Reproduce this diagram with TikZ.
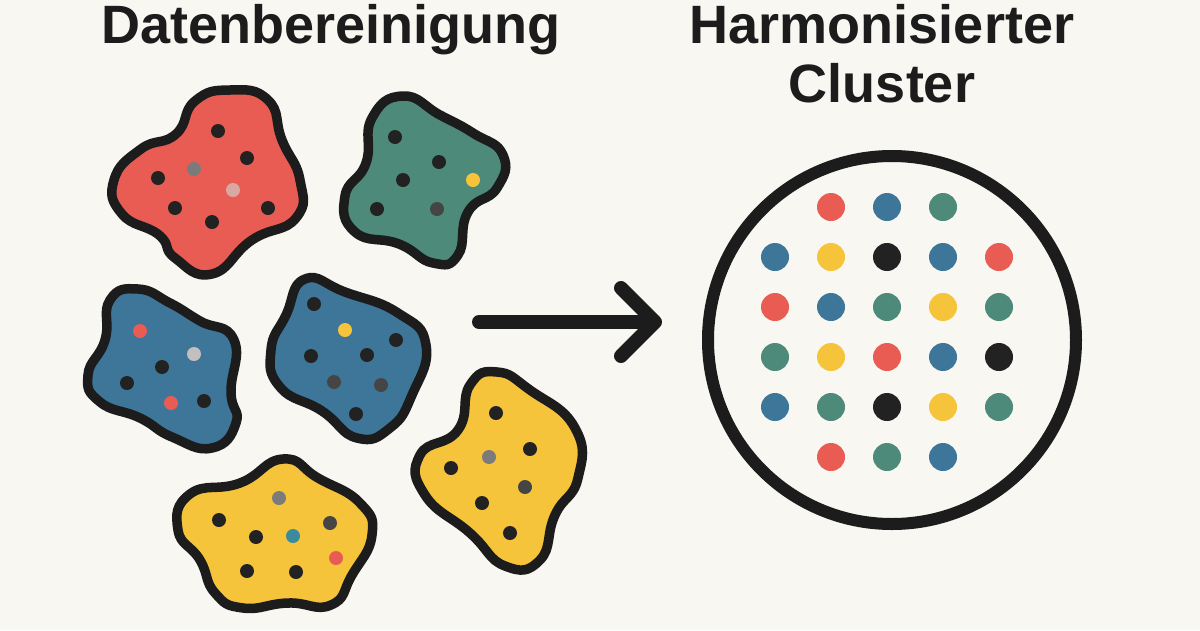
\documentclass[tikz,border=0pt]{standalone}
\usepackage{fontspec}
\setmainfont{Liberation Sans}
\usepackage{tikz}
\usetikzlibrary{arrows.meta}
\definecolor{paper}{HTML}{F9F7F2}
\definecolor{ink}{HTML}{1C1C1C}
\definecolor{cred}{HTML}{E95C53}
\definecolor{cblue}{HTML}{3E7699}
\definecolor{cgreen}{HTML}{4E8A79}
\definecolor{cyellow}{HTML}{F6C43A}
\definecolor{cblack}{HTML}{222222}
\definecolor{dgray}{HTML}{454545}
\definecolor{mgray}{HTML}{7B7B7B}
\definecolor{lgray}{HTML}{C3BFBF}
\definecolor{pinkgray}{HTML}{D9A8A3}
\definecolor{teal}{HTML}{3A8C9C}
\tikzset{
  title/.style={font=\fontsize{54}{62}\selectfont\bfseries,text=ink,inner sep=0pt,anchor=base},
  blob/.style={draw=ink,line width=9.5pt,line join=round},
  ring/.style={circle,draw=ink,line width=12pt,minimum size=368pt,inner sep=0pt},
  flow/.style={draw=ink,line width=14pt,line cap=round,-{Straight Barb[length=34pt,width=68pt,round]}}
}
\begin{document}
\begin{tikzpicture}[x=1pt,y=-1pt]
  \fill[paper] (0,0) rectangle (1200,630);
  \useasboundingbox (0,0) rectangle (1200,630);
  \node[title] (title left) at (331,43) {Datenbereinigung};
  \node[title] (title right) at (882,43) {Harmonisierter};
  \node[title] (title right2) at (882,102) {Cluster};
  \draw[blob,fill=cred] plot[smooth cycle,tension=0.85] coordinates {(230,90) (268,100) (282,140) (300,180) (296,218) (252,240) (212,274) (175,258) (159,235) (122,214) (114,180) (141,149) (176,134) (195,101)};
  \foreach \x/\y/\c in {218/131/cblack,247/158/cblack,194/169/mgray,158/178/cblack,233/190/pinkgray,175/208/cblack,268/208/cblack,212/222/cblack}
    \fill[\c] (\x,\y) circle[radius=7];
  \draw[blob,fill=cgreen] plot[smooth cycle,tension=0.85] coordinates {(403,96) (440,115) (473,133) (503,155) (497,188) (468,212) (458,255) (433,263) (399,244) (355,232) (345,196) (366,163) (372,118)};
  \foreach \x/\y/\c in {395/137/cblack,439/162/cblack,403/180/cblack,473/180/cyellow,377/209/cblack,437/209/dgray}
    \fill[\c] (\x,\y) circle[radius=7];
  \draw[blob,fill=cblue] plot[smooth cycle,tension=0.85] coordinates {(138,289) (170,303) (200,321) (234,340) (231,392) (236,423) (212,448) (172,437) (140,418) (100,402) (88,375) (105,340) (110,300)};
  \foreach \x/\y/\c in {140/331/cred,194/354/lgray,162/367/cblack,127/383/cblack,171/403/cred,204/401/cblack}
    \fill[\c] (\x,\y) circle[radius=7];
  \draw[blob,fill=cblue] plot[smooth cycle,tension=0.85] coordinates {(305,279) (345,292) (398,313) (426,345) (412,395) (390,428) (357,438) (322,411) (280,387) (271,350) (286,315)};
  \foreach \x/\y/\c in {314/304/cblack,345/330/cyellow,396/340/cblack,311/356/cblack,367/355/cblack,334/382/dgray,381/385/dgray,356/414/cblack}
    \fill[\c] (\x,\y) circle[radius=7];
  \draw[blob,fill=cyellow] plot[smooth cycle,tension=0.85] coordinates {(283,459) (318,478) (360,503) (372,535) (352,575) (331,605) (288,603) (243,608) (215,593) (200,560) (178,530) (190,494) (240,483)};
  \foreach \x/\y/\c in {279/498/mgray,219/520/cblack,256/537/cblack,293/536/teal,330/523/dgray,336/558/cred,247/571/cblack,296/572/cblack}
    \fill[\c] (\x,\y) circle[radius=7];
  \draw[blob,fill=cyellow] plot[smooth cycle,tension=0.85] coordinates {(497,372) (530,390) (575,428) (578,478) (555,515) (540,560) (505,566) (470,533) (425,495) (420,455) (458,430) (470,385)};
  \foreach \x/\y/\c in {496/413/cblack,530/449/cblack,489/457/mgray,451/468/cblack,525/487/dgray,482/503/cblack,510/533/cblack}
    \fill[\c] (\x,\y) circle[radius=7];
  \coordinate (arrow start) at (479,322);
  \coordinate (arrow end) at (662,322);
  \draw[flow] (arrow start) -- (arrow end);
  \node[ring] (cluster) at (892,340) {};
  \foreach \y/\x/\cols in {207/831/{cred,cblue,cgreen},257/775/{cblue,cyellow,cblack,cblue,cred},307/775/{cred,cblue,cgreen,cyellow,cgreen},357/775/{cgreen,cyellow,cred,cblue,cblack},407/775/{cblue,cgreen,cblack,cyellow,cgreen},457/831/{cred,cgreen,cblue}}
    \foreach \c [count=\i from 0] in \cols
      \fill[\c] (\x+56*\i,\y) circle[radius=14];
\end{tikzpicture}
\end{document}
